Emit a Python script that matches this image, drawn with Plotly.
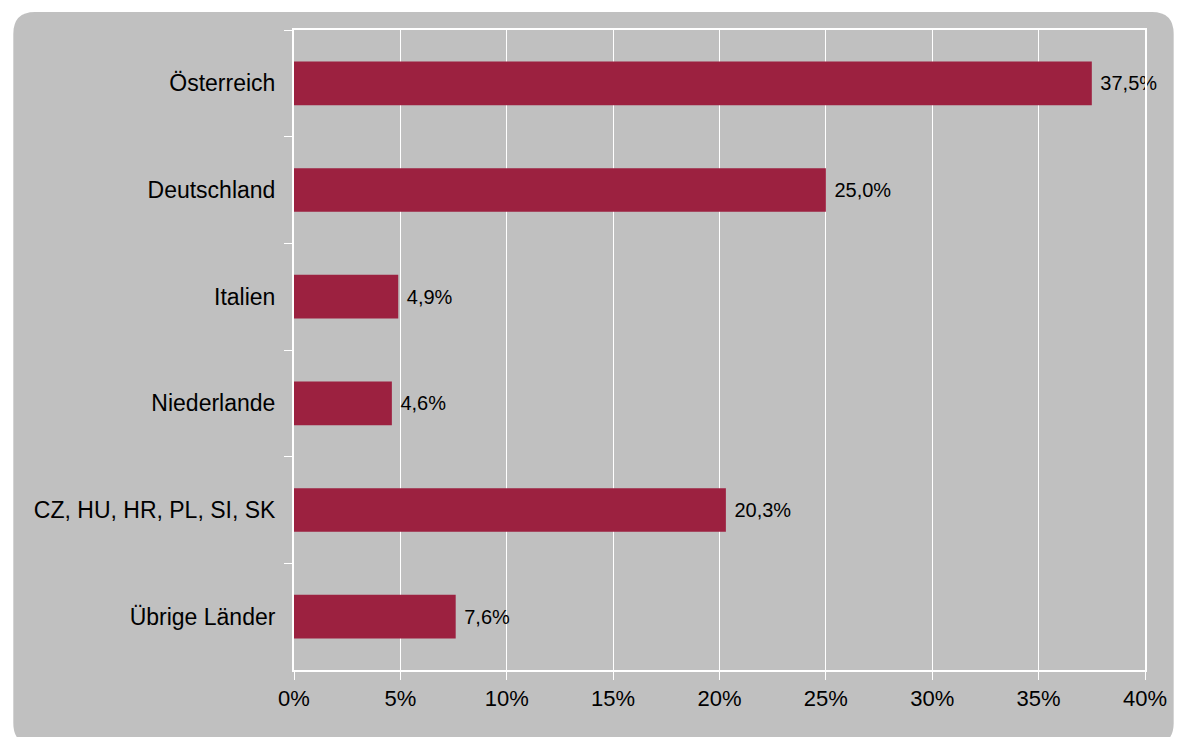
import plotly.graph_objects as go

categories = ["Österreich", "Deutschland", "Italien", "Niederlande", "CZ, HU, HR, PL, SI, SK", "Übrige Länder"]
values = [37.5, 25.0, 4.9, 4.6, 20.3, 7.6]
labels = ["37,5%", "25,0%", "4,9%", "4,6%", "20,3%", "7,6%"]
x_ticks = [0, 5, 10, 15, 20, 25, 30, 35, 40]

W, H = 1179, 737
ML, MR, MT, MB = 294, 24, 30, 67
PW, PH = W - ML - MR, H - MT - MB

def px(x):
    return (x - ML) / PW

def py(y):
    return (H - MB - y) / PH

# rounded background rectangle in page pixel coordinates
x0, y0, x1, y1, r = 10, 12, 1184, 745, 22
path = (
    f"M {px(x0 + r)} {py(y0)} L {px(x1 - r)} {py(y0)} "
    f"Q {px(x1)} {py(y0)} {px(x1)} {py(y0 + r)} "
    f"L {px(x1)} {py(y1 - r)} Q {px(x1)} {py(y1)} {px(x1 - r)} {py(y1)} "
    f"L {px(x0 + r)} {py(y1)} Q {px(x0)} {py(y1)} {px(x0)} {py(y1 - r)} "
    f"L {px(x0)} {py(y0 + r)} Q {px(x0)} {py(y0)} {px(x0 + r)} {py(y0)} Z"
)

fig = go.Figure(
    go.Bar(
        x=values,
        y=categories,
        orientation="h",
        marker=dict(color="#9C2140", line=dict(width=0)),
        width=0.41,
        text=[" " + t for t in labels],
        textposition="outside",
        textfont=dict(family="Liberation Sans, Arial, sans-serif", size=20, color="black"),
        cliponaxis=False,
        hoverinfo="skip",
    )
)

fig.update_layout(
    width=W,
    height=H,
    margin=dict(l=ML, r=MR, t=MT, b=MB, pad=0),
    paper_bgcolor="white",
    plot_bgcolor="rgba(0,0,0,0)",
    showlegend=False,
    font=dict(family="Liberation Sans, Arial, sans-serif", size=22, color="black"),
    shapes=[
        dict(type="path", path=path, xref="paper", yref="paper",
             fillcolor="#C0C0C0", line=dict(width=0), layer="below"),
    ],
)

fig.update_xaxes(
    range=[0, 40],
    tickvals=x_ticks,
    ticktext=[f"{t}%" for t in x_ticks],
    showgrid=True,
    gridcolor="white",
    gridwidth=1,
    showline=True,
    linecolor="white",
    linewidth=2,
    mirror=True,
    ticks="outside",
    ticklen=8,
    tickcolor="white",
    tickwidth=1,
    zeroline=False,
    tickfont=dict(size=22),
    fixedrange=True,
)

fig.update_yaxes(
    categoryorder="array",
    categoryarray=categories,
    autorange="reversed",
    showgrid=False,
    showline=True,
    linecolor="white",
    linewidth=2,
    mirror=True,
    ticks="outside",
    tickson="boundaries",
    ticklen=8,
    tickcolor="white",
    tickwidth=1,
    ticklabelstandoff=12,
    tickfont=dict(size=23),
    fixedrange=True,
)

fig.write_html(
    "out.html",
    config={"displayModeBar": False},
    post_script="document.body.style.margin='0';document.body.style.overflow='hidden';",
)
